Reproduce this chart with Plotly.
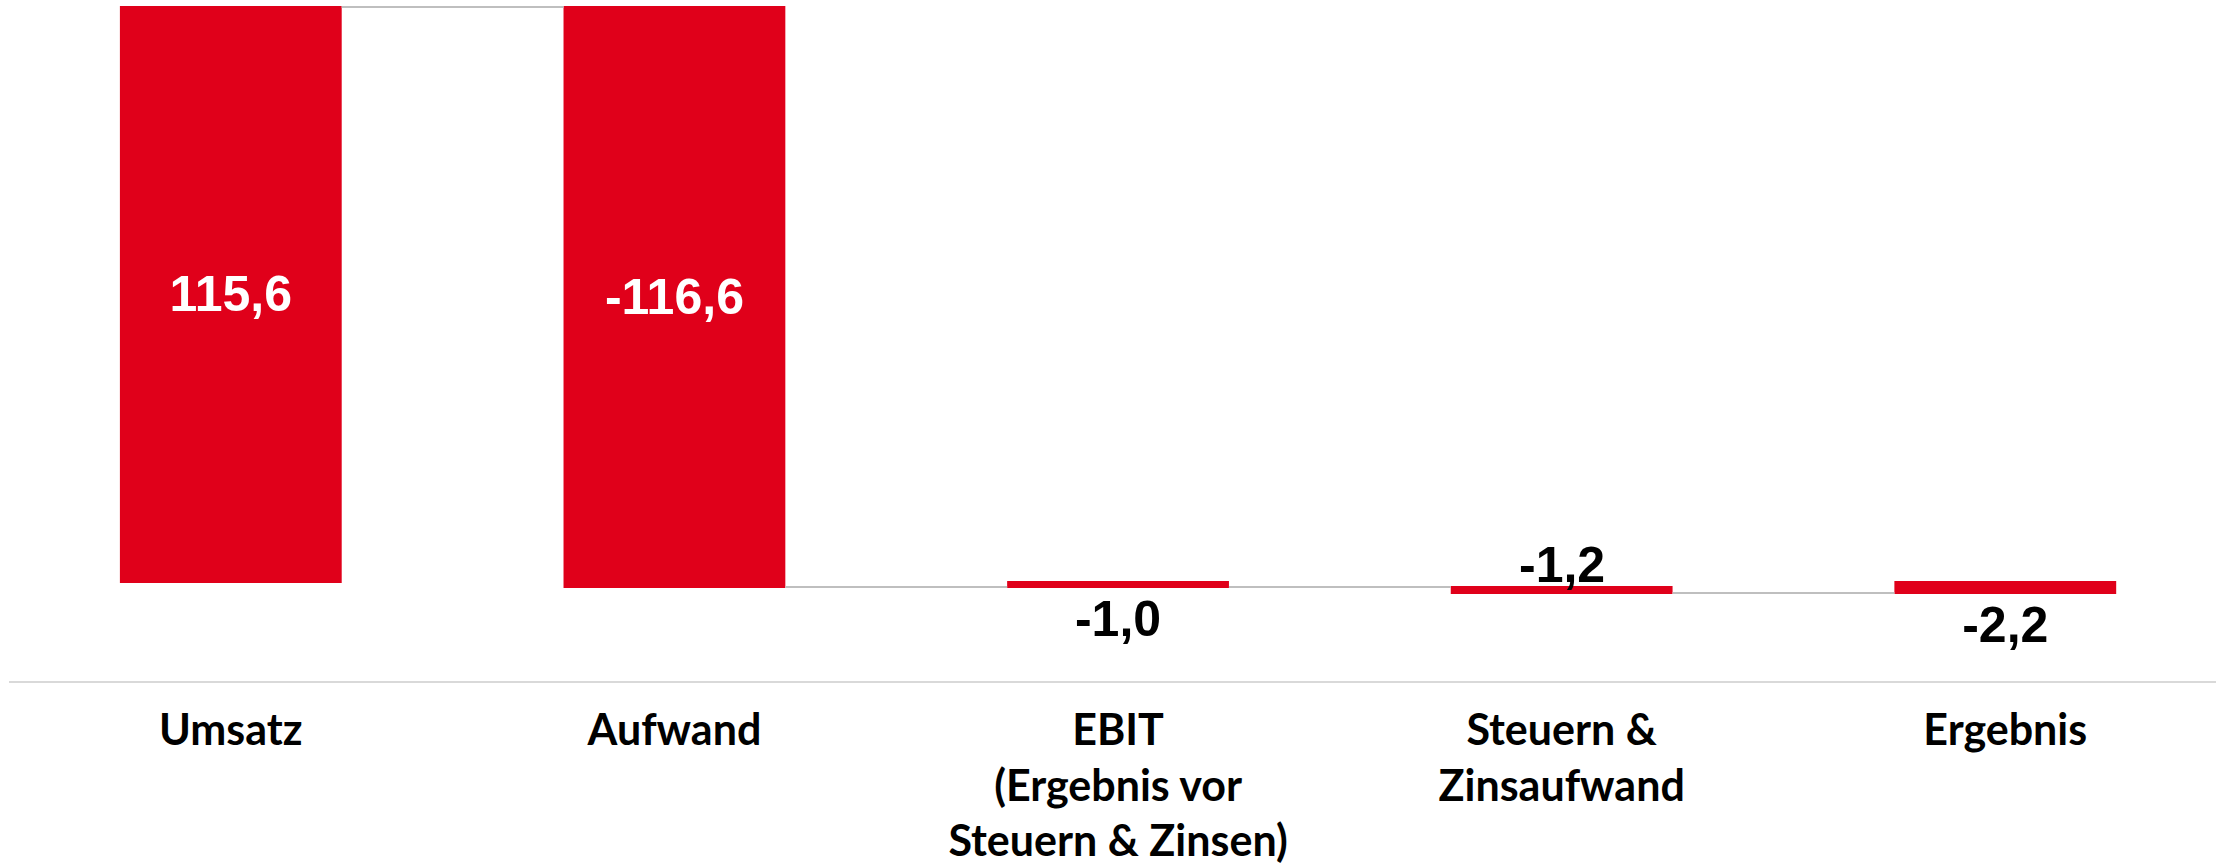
import plotly.graph_objects as go

# waterfall data (Mio. EUR)
categories = [
    "Umsatz",
    "Aufwand",
    "EBIT<br>(Ergebnis vor<br>Steuern & Zinsen)",
    "Steuern &<br>Zinsaufwand",
    "Ergebnis",
]
values = [115.6, -116.6, -1.0, -1.2, -2.2]
measures = ["relative", "relative", "total", "relative", "total"]
label_positions = ["inside", "inside", "outside", "none", "outside"]

RED = "#E0001A"
GREY = "#BFBFBF"
VALUE_FONT = "Liberation Sans"


def fmt(v):
    return f"{v:.1f}".replace(".", ",")


labels = [fmt(v) for v in values]

fig = go.Figure()

fig.add_trace(
    go.Waterfall(
        x=categories,
        y=values,
        measure=measures,
        text=labels,
        textposition=label_positions,
        textinfo="text",
        insidetextanchor="middle",
        insidetextfont=dict(family=VALUE_FONT, size=50, color="white", weight="bold"),
        outsidetextfont=dict(family=VALUE_FONT, size=50, color="black", weight="bold"),
        cliponaxis=False,
        increasing=dict(marker=dict(color=RED)),
        decreasing=dict(marker=dict(color=RED)),
        totals=dict(marker=dict(color=RED)),
        connector=dict(line=dict(color=GREY, width=2), mode="between"),
        showlegend=False,
    )
)

# the "Steuern" label sits above its bar, at the running total before it
running = 0
for cat, v, m in zip(categories, values, measures):
    start = running
    if m == "relative":
        running += v
    else:
        running = v
    if cat.startswith("Steuern"):
        fig.add_annotation(
            x=cat,
            y=start,
            text=fmt(v),
            showarrow=False,
            yanchor="bottom",
            yshift=-8,
            font=dict(family=VALUE_FONT, size=50, color="black", weight="bold"),
        )

fig.update_layout(
    width=2216,
    height=865,
    margin=dict(l=9, r=0, t=0, b=184),
    paper_bgcolor="white",
    plot_bgcolor="white",
    waterfallgap=0.5,
    xaxis=dict(
        type="category",
        range=[-0.5, 4.475],
        showline=True,
        linecolor="#D9D9D9",
        linewidth=2,
        showgrid=False,
        ticks="",
        tickfont=dict(family="Lato", size=43, color="black", weight="bold"),
        ticklabelstandoff=10,
    ),
    yaxis=dict(
        range=[-19.9, 117.0],
        visible=False,
        showgrid=False,
        zeroline=False,
    ),
)

fig.write_html(
    "out.html",
    config={"displayModeBar": False},
    post_script="document.body.style.margin='0';",
)
